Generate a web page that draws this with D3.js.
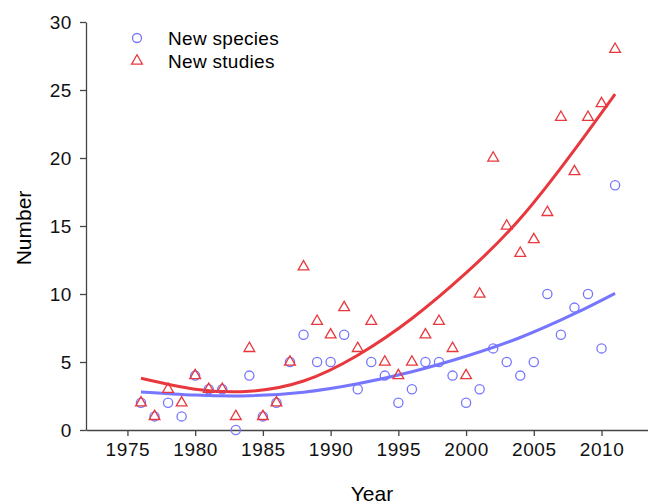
<!DOCTYPE html>
<meta charset="utf-8">
<script src="https://d3js.org/d3.v7.min.js"></script>
<style>
  body { margin: 0; background: #fff; font-family: "Liberation Sans", Arial, Helvetica, sans-serif; }
  svg { display: block; }
</style>
<div id="my_dataviz"></div>
<script>

// data
var years = [1976, 1977, 1978, 1979, 1980, 1981, 1982, 1983, 1984, 1985, 1986, 1987,
             1988, 1989, 1990, 1991, 1992, 1993, 1994, 1995, 1996, 1997, 1998, 1999,
             2000, 2001, 2002, 2003, 2004, 2005, 2006, 2007, 2008, 2009, 2010, 2011];
var newSpecies = [2, 1, 2, 1, 4, 3, 3, 0, 4, 1, 2, 5,
                  7, 5, 5, 7, 3, 5, 4, 2, 3, 5, 5, 4,
                  2, 3, 6, 5, 4, 5, 10, 7, 9, 10, 6, 18];
var newStudies = [2, 1, 3, 2, 4, 3, 3, 1, 6, 1, 2, 5,
                  12, 8, 7, 9, 6, 8, 5, 4, 5, 7, 8, 6,
                  4, 10, 20, 15, 13, 14, 16, 23, 19, 23, 24, 28];

// fitted trend lines, read at a few years
var fitYears = [1976, 1980, 1984, 1988, 1992, 1996, 2000, 2004, 2008, 2011];
var fitSpecies = [2.8, 2.57, 2.52, 2.78, 3.4, 4.28, 5.42, 6.8, 8.55, 10.05];
var fitStudies = [3.8, 3.0, 2.85, 3.6, 5.5, 8.2, 11.55, 15.55, 20.6, 24.7];

var xTicks = [1975, 1980, 1985, 1990, 1995, 2000, 2005, 2010];
var yTicks = [0, 5, 10, 15, 20, 25, 30];

var blue = "#7676ff", red = "#e8383d";

var width = 648, height = 504;

var svg = d3.select("#my_dataviz")
  .append("svg")
    .attr("width", width)
    .attr("height", height);

var x = d3.scaleLinear()
  .domain([1971.94, 2013.43])
  .range([86, 648]);

var y = d3.scaleLinear()
  .domain([0, 30])
  .range([430, 22]);

// axes
svg.append("g")
  .attr("transform", "translate(0,430)")
  .call(d3.axisBottom(x).tickValues(xTicks).tickFormat(d3.format("d")).tickSizeInner(6).tickSizeOuter(0).tickPadding(7));

svg.append("g")
  .attr("transform", "translate(86,0)")
  .call(d3.axisLeft(y).tickValues(yTicks).tickSizeInner(6).tickSizeOuter(0).tickPadding(8));

svg.selectAll(".domain").attr("stroke", "#444").attr("stroke-width", 1.3);
svg.selectAll(".tick line").attr("stroke", "#444").attr("stroke-width", 1.3);
svg.selectAll(".tick text")
  .style("font-family", "'Liberation Sans', Arial, sans-serif")
  .style("font-size", "19px")
  .style("letter-spacing", "0.6px")
  .attr("fill", "#111");

svg.append("text")
  .attr("x", 372).attr("y", 501)
  .attr("text-anchor", "middle")
  .style("font-size", "21px")
  .text("Year");

svg.append("text")
  .attr("transform", "translate(31,228)rotate(-90)")
  .attr("text-anchor", "middle")
  .style("font-size", "21px")
  .text("Number");

// trend lines
var line = d3.line()
  .x(function(d){ return x(d[0]) })
  .y(function(d){ return y(d[1]) })
  .curve(d3.curveNatural);

svg.append("path")
  .datum(fitYears.map(function(yr, i){ return [yr, fitStudies[i]] }))
  .attr("d", line)
  .attr("fill", "none")
  .attr("stroke", red)
  .attr("stroke-width", 3);

svg.append("path")
  .datum(fitYears.map(function(yr, i){ return [yr, fitSpecies[i]] }))
  .attr("d", line)
  .attr("fill", "none")
  .attr("stroke", blue)
  .attr("stroke-width", 3);

// points
svg.selectAll("mycircles")
  .data(years)
  .enter()
  .append("circle")
    .attr("cx", function(d){ return x(d) })
    .attr("cy", function(d, i){ return y(newSpecies[i]) })
    .attr("r", 4.6)
    .attr("fill", "none")
    .attr("stroke", blue)
    .attr("stroke-width", 1.3);

var tri = d3.symbol().type(d3.symbolTriangle).size(50);

svg.selectAll("mytriangles")
  .data(years)
  .enter()
  .append("path")
    .attr("d", tri)
    .attr("transform", function(d, i){ return "translate(" + x(d) + "," + y(newStudies[i]) + ")" })
    .attr("fill", "none")
    .attr("stroke", red)
    .attr("stroke-width", 1.3);

// legend
svg.append("circle").attr("cx", 137).attr("cy", 38).attr("r", 4.5)
  .attr("fill", "none").attr("stroke", blue).attr("stroke-width", 1.3);
svg.append("path").attr("d", tri).attr("transform", "translate(137,61)")
  .attr("fill", "none").attr("stroke", red).attr("stroke-width", 1.3);
svg.append("text").attr("x", 168).attr("y", 45).style("font-size", "19px").style("letter-spacing", "0.3px").text("New species");
svg.append("text").attr("x", 168).attr("y", 68).style("font-size", "19px").style("letter-spacing", "0.3px").text("New studies");

</script>
